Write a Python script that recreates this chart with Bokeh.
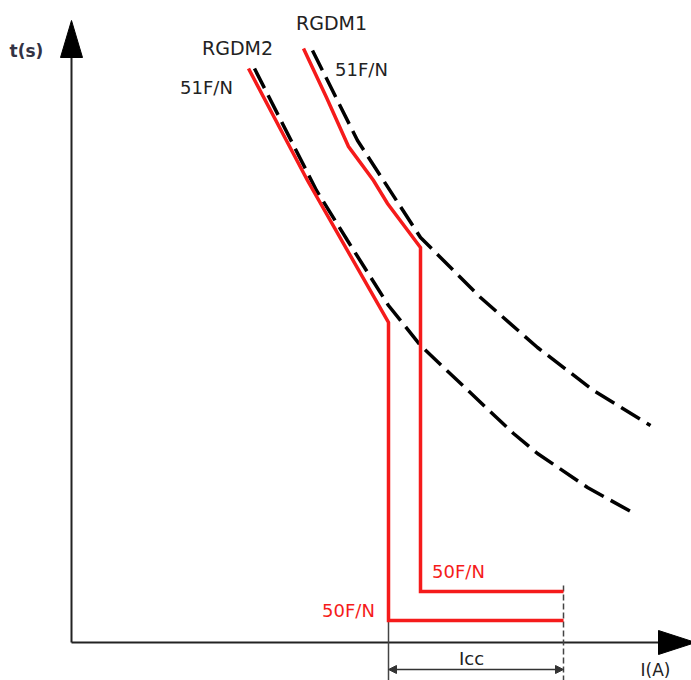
from bokeh.plotting import figure
from bokeh.models import Range1d, Arrow, NormalHead, ColumnDataSource
from bokeh.core.properties import value
from bokeh.embed import file_html
from bokeh.resources import INLINE

# ---- schematic data (X = current axis units, Y = time axis units; origin at axes crossing) ----
# RGDM1 relay characteristic (red): inverse-time part, then instantaneous 50F/N step
rgdm1_x = [232, 255, 277, 302, 316, 349, 349, 492]
rgdm1_y = [594, 545, 496, 462, 439, 395, 51, 51]
# RGDM2 relay characteristic (red)
rgdm2_x = [177, 236, 317, 317, 492]
rgdm2_y = [574, 462, 320, 22, 22]
# dashed reference curves (black)
dash1_x = [241, 286, 349, 409, 466, 522, 579]
dash1_y = [592, 502, 405, 345, 295, 252, 217]
dash2_x = [183, 245, 276, 317, 349, 386, 442, 466, 516, 561]
dash2_y = [574, 452, 402, 337, 297, 262, 209, 189, 155, 130]

# Icc span on the current axis
icc_start = 317
icc_end = 492
icc_level = -27

# axis extents
x_axis_end = 587
x_axis_tip = 624
y_axis_end = 585
y_axis_tip = 622
head_half = 11

# text labels
dark_text = ["RGDM2", "RGDM1", "51F/N", "51F/N", "Icc", "I(A)"]
dark_x = [166, 260, 135, 290, 400, 584]
dark_y = [595, 619.5, 555, 573.5, -16, -27]
dark_size = ["19px", "19px", "18px", "18px", "18px", "17px"]
red_text = ["50F/N", "50F/N"]
red_x = [387, 277]
red_y = [71, 32.5]
axis_title = ["t(s)"]
axis_title_x = [-45]
axis_title_y = [592]

RED = "#f51b1b"
INK = "#222222"

p = figure(width=691, height=680, x_range=Range1d(-71, 620), y_range=Range1d(-38, 642),
           output_backend="svg", toolbar_location=None, min_border=0,
           x_axis_type=None, y_axis_type=None)
p.grid.visible = False
p.outline_line_color = None
p.background_fill_color = "white"
p.border_fill_color = "white"

# axes with arrow heads
p.line([0, x_axis_end], [0, 0], line_color=INK, line_width=2)
p.line([0, 0], [0, y_axis_end], line_color=INK, line_width=2)
p.patch([x_axis_end, x_axis_tip, x_axis_end], [head_half + 1, 0, -head_half - 1], color="black")
p.patch([-head_half, 0, head_half], [y_axis_end, y_axis_tip, y_axis_end], color="black")

# extension lines for Icc
p.line([icc_start, icc_start], [rgdm2_y[-1], -40], line_color="#444444", line_width=1.5)
p.line([icc_end, icc_end], [rgdm1_y[-1] + 6, -40], line_color="#444444", line_width=1.5, line_dash="6 3")
p.add_layout(Arrow(x_start=icc_start, y_start=icc_level, x_end=icc_end, y_end=icc_level,
                   line_color="#333333", line_width=1.5,
                   start=NormalHead(size=8, fill_color="#333333", line_color="#333333"),
                   end=NormalHead(size=8, fill_color="#333333", line_color="#333333")))

# dashed curves
p.line(dash1_x, dash1_y, line_color="black", line_width=3.5, line_dash="22 8")
p.line(dash2_x, dash2_y, line_color="black", line_width=3.5, line_dash="22 8")

# red relay curves
p.line(rgdm1_x, rgdm1_y, line_color=RED, line_width=3.5, line_join="miter")
p.line(rgdm2_x, rgdm2_y, line_color=RED, line_width=3.5, line_join="miter")

# labels
src_dark = ColumnDataSource(dict(x=dark_x, y=dark_y, t=dark_text, s=dark_size))
p.text("x", "y", text="t", source=src_dark, text_font=value("DejaVu Sans"), text_font_size="s",
       text_color=INK, text_align="center", text_baseline="middle")
src_red = ColumnDataSource(dict(x=red_x, y=red_y, t=red_text))
p.text("x", "y", text="t", source=src_red, text_font=value("DejaVu Sans"), text_font_size="18px",
       text_color=RED, text_align="center", text_baseline="middle")
src_title = ColumnDataSource(dict(x=axis_title_x, y=axis_title_y, t=axis_title))
p.text("x", "y", text="t", source=src_title, text_font=value("DejaVu Sans"), text_font_size="17px",
       text_font_style="bold", text_color="#333344", text_align="center", text_baseline="middle")

open("out.html", "w").write(file_html(p, INLINE))
